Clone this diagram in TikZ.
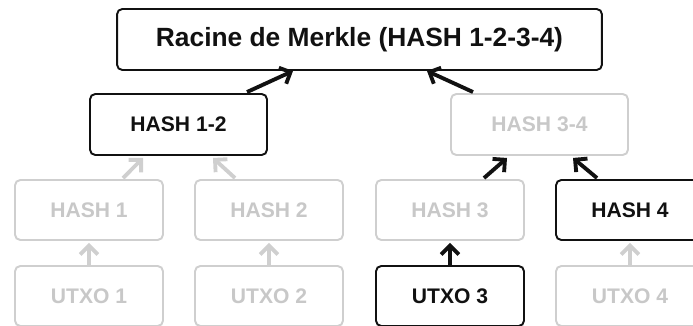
\documentclass[tikz,border=0pt]{standalone}
\usepackage{fontspec}
\setmainfont{Liberation Sans}
\usepackage{xcolor}
\usepackage{tikz}
\usetikzlibrary{arrows.meta,positioning,calc}
\definecolor{ink}{HTML}{111111}
\definecolor{faded}{HTML}{CFCFCF}
\definecolor{fadedtxt}{HTML}{C8C8C8}
\tikzset{
  hashbox/.style={draw=ink,text=ink,fill=white,rounded corners=3pt,
                  line width=1.1pt,font=\fontsize{12}{14}\selectfont\bfseries,
                  minimum width=2.96cm,minimum height=1.2cm,inner sep=0pt},
  hashfaded/.style={hashbox,draw=faded,text=fadedtxt},
  arrowink/.style={-{Straight Barb[length=5pt,width=10pt]},line width=2.2pt,ink},
  arrowfaded/.style={-{Straight Barb[length=5pt,width=10pt]},line width=2.2pt,faded},
}
\begin{document}
\begin{tikzpicture}[x=0.02cm,y=-0.02cm]
  \clip (0,0) rectangle (693,325);

  % Root
  \node[hashbox,minimum width=9.7cm,minimum height=1.22cm,
        font=\fontsize{15}{18}\selectfont\bfseries] (root) at (359.5,39.5)
    {Racine de Merkle (HASH 1-2-3-4)};

  % Level 1
  \node[hashbox,minimum width=3.54cm,minimum height=1.22cm] (h12) at (178.5,124.5) {HASH 1-2};
  \node[hashfaded,minimum width=3.54cm,minimum height=1.22cm] (h34) at (539.5,124.5) {HASH 3-4};

  % Level 2
  \node[hashfaded] (h1) at (89,210) {HASH 1};
  \node[hashfaded] (h2) at (269,210) {HASH 2};
  \node[hashfaded] (h3) at (450,210) {HASH 3};
  \node[hashbox]   (h4) at (630,210) {HASH 4};

  % Leaves
  \node[hashfaded] (u1) at (89,296) {UTXO 1};
  \node[hashfaded] (u2) at (269,296) {UTXO 2};
  \node[hashbox]   (u3) at (450,296) {UTXO 3};
  \node[hashfaded] (u4) at (630,296) {UTXO 4};

  % Arrows to root
  \draw[arrowink] ($(h12.north)+(68.5,-1)$) -- ($(root.south)+(-66.5,0)$);
  \draw[arrowink] ($(h34.north)+(-66.5,-1)$) -- ($(root.south)+(67.5,0)$);

  % Arrows to level 1
  \draw[arrowfaded] ($(h1.north)+(34,-1)$) -- ($(h12.south)+(-35.5,2)$);
  \draw[arrowfaded] ($(h2.north)+(-34,-1)$) -- ($(h12.south)+(34.5,2)$);
  \draw[arrowink]   ($(h3.north)+(34,-1)$) -- ($(h34.south)+(-32.5,2)$);
  \draw[arrowink]   ($(h4.north)+(-33,-1)$) -- ($(h34.south)+(33.5,2)$);

  % Arrows from leaves
  \draw[arrowfaded] (u1.north) -- ($(h1.south)+(0,2)$);
  \draw[arrowfaded] (u2.north) -- ($(h2.south)+(0,2)$);
  \draw[arrowink]   (u3.north) -- ($(h3.south)+(0,2)$);
  \draw[arrowfaded] (u4.north) -- ($(h4.south)+(0,2)$);
\end{tikzpicture}
\end{document}
